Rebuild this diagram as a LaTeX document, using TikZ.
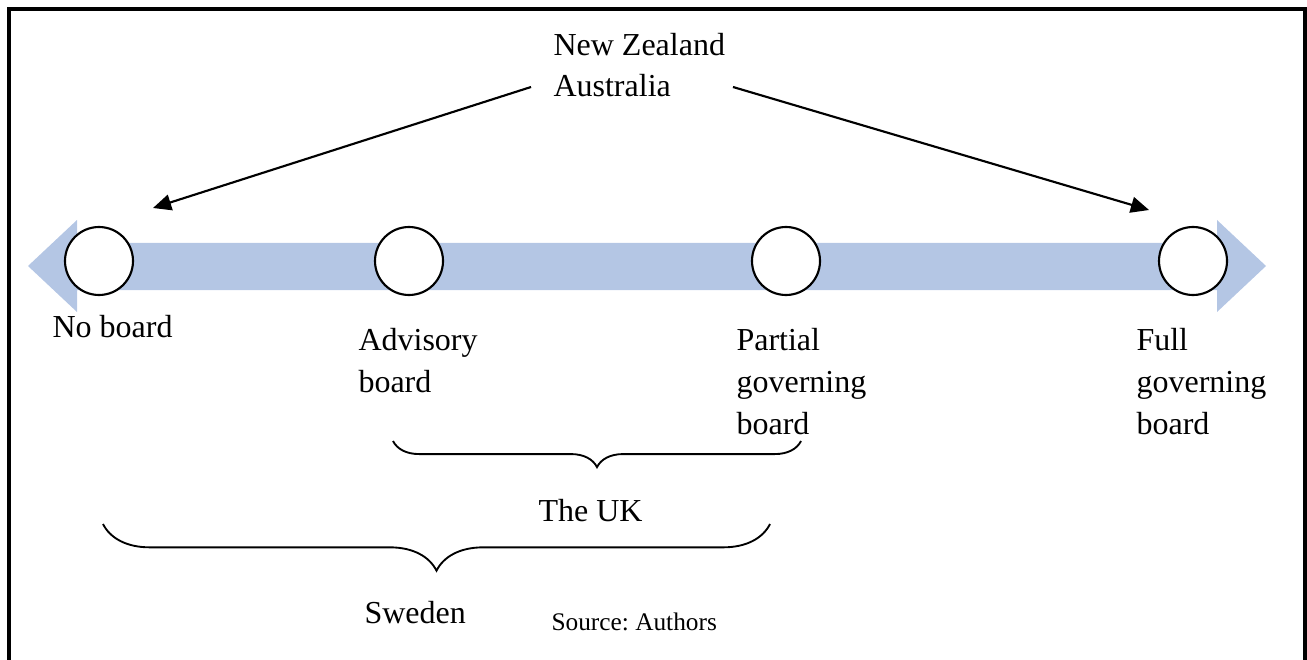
\documentclass[tikz,border=0pt]{standalone}
\usepackage{fontspec}
\setmainfont{Liberation Serif}
\usetikzlibrary{arrows.meta,decorations.pathreplacing}
\definecolor{scalebar}{RGB}{180,198,228}
\begin{document}
\begin{tikzpicture}[x=0.375pt, y=-0.375pt,
  stage/.style={shape=circle, draw=black, fill=white, line width=0.8pt, minimum size=25.5pt, inner sep=0pt},
  lbl/.style={anchor=base west, inner sep=0pt, align=left, font=\fontsize{12}{15.6}\selectfont},
  pointer/.style={-{Triangle[length=6.8pt,width=6pt]}, line width=0.8pt, draw=black},
  brc/.style={decorate, decoration={brace, mirror, amplitude=#1}, line width=0.7pt, draw=black}]
\useasboundingbox (0,0) rectangle (1307,659);
\draw[line width=1.2pt] (9,670) -- (9,9) -- (1305,9) -- (1305,670);
% the scale
\fill[scalebar] (28,266) -- (77,220) -- (77,243) -- (1217,243) -- (1217,220) -- (1266,266)
  -- (1217,312) -- (1217,290) -- (77,290) -- (77,312) -- cycle;
\node[stage] (c1) at (99,261) {};
\node[stage] (c2) at (409,261) {};
\node[stage] (c3) at (786,261) {};
\node[stage] (c4) at (1193,261) {};
\node[lbl] (nob) at (52,337) {No board};
\node[lbl] (adv) at (358,392) {Advisory\\board};
\node[lbl] (par) at (736,434) {Partial\\governing\\board};
\node[lbl] (ful) at (1136,434) {Full\\governing\\board};
% countries
\node[lbl] (nz) at (553,97) {New Zealand\\Australia};
\coordinate (nzl) at (531,87);
\coordinate (nzr) at (733,87);
\coordinate (tipl) at (153,208);
\coordinate (tipr) at (1149,210);
\draw[pointer] (nzl) -- (tipl);
\draw[pointer] (nzr) -- (tipr);
\coordinate (ukl) at (393,441);
\coordinate (ukr) at (801,441);
\draw[brc=9.8pt] (ukl) -- (ukr);
\node[lbl] (uk) at (538,521) {The UK};
\coordinate (swl) at (103,524);
\coordinate (swr) at (770,524);
\draw[brc=17.5pt] (swl) -- (swr);
\node[lbl] (swe) at (364,623) {Sweden};
\node[lbl, font=\fontsize{9.5}{11}\selectfont\frenchspacing] (src) at (551,630) {Source: Authors};
\end{tikzpicture}
\end{document}
